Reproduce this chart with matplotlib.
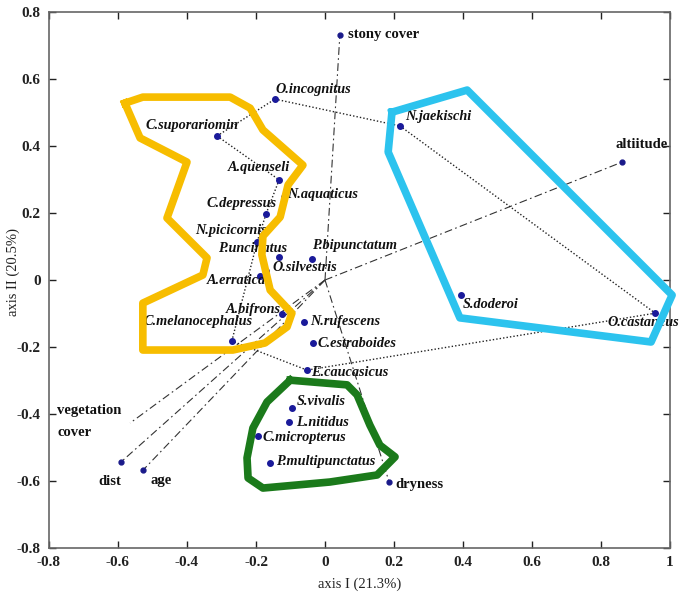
import matplotlib
matplotlib.use("Agg")
import matplotlib.pyplot as plt
from matplotlib.ticker import FuncFormatter

# ---------------- data ----------------
species = ["O.incognitus", "C.suporariomin", "A.quenseli", "N.aquaticus", "C.depressus",
           "N.picicornis", "P.uncinatus", "P.bipunctatum", "O.silvestris", "A.erratica",
           "A.bifrons", "C.melanocephalus", "N.rufescens", "C.estraboides", "E.caucasicus",
           "S.vivalis", "L.nitidus", "C.micropterus", "P.multipunctatus", "N.jaekischi",
           "S.doderoi", "O.castaneus"]
sp_x = [-0.145, -0.313, -0.133, -0.119, -0.171, -0.197, -0.133, -0.038, -0.171, -0.188,
        -0.125, -0.270, -0.061, -0.035, -0.052, -0.096, -0.105, -0.194, -0.159, 0.217,
        0.394, 0.957]
sp_y = [0.540, 0.430, 0.299, 0.248, 0.197, 0.113, 0.069, 0.063, 0.027, 0.012,
        -0.101, -0.182, -0.125, -0.188, -0.269, -0.382, -0.424, -0.466, -0.546, 0.460,
        -0.045, -0.099]

env_vars = ["stony cover", "altiitude", "dryness", "dist", "age", "vegetation\ncover"]
env_x = [0.043, 0.861, 0.186, -0.591, -0.527, -0.565]
env_y = [0.731, 0.352, -0.603, -0.543, -0.567, -0.427]
env_marker = [True, True, True, True, True, False]

links = [("C.suporariomin", "O.incognitus"), ("O.incognitus", "N.jaekischi"),
         ("N.jaekischi", "O.castaneus"), ("O.castaneus", "E.caucasicus"),
         ("E.caucasicus", "C.melanocephalus"), ("C.suporariomin", "A.quenseli"),
         ("A.quenseli", "C.depressus"), ("C.depressus", "N.picicornis"),
         ("N.picicornis", "C.melanocephalus")]

yellow_x = [-0.580, -0.528, -0.275, -0.217, -0.180, -0.064, -0.107, -0.130, -0.180, -0.183,
            -0.159, -0.096, -0.110, -0.174, -0.267, -0.528, -0.528, -0.354, -0.342, -0.458,
            -0.400, -0.536]
yellow_y = [0.528, 0.546, 0.546, 0.513, 0.448, 0.343, 0.284, 0.188, 0.131, 0.075,
            -0.030, -0.099, -0.140, -0.188, -0.209, -0.209, -0.069, 0.015, 0.066, 0.185,
            0.352, 0.424]
cyan_x = [0.194, 0.412, 1.006, 0.945, 0.391, 0.183]
cyan_y = [0.501, 0.567, -0.045, -0.185, -0.113, 0.382]
green_x = [-0.101, 0.064, 0.093, 0.130, 0.159, 0.203, 0.151, 0.014, -0.180, -0.223,
           -0.226, -0.209, -0.168]
green_y = [-0.299, -0.313, -0.343, -0.433, -0.493, -0.528, -0.582, -0.603, -0.621, -0.591,
           -0.531, -0.442, -0.364]

xticks = [-0.8, -0.6, -0.4, -0.2, 0, 0.2, 0.4, 0.6, 0.8, 1.0]
yticks = [-0.8, -0.6, -0.4, -0.2, 0, 0.2, 0.4, 0.6, 0.8]

# ---------------- label placement (pixel offsets, ha) ----------------
sp_off = {
    "O.incognitus": (1, 10, "left"), "C.suporariomin": (-25, 10, "center"),
    "A.quenseli": (-20, 12, "center"), "N.aquaticus": (3, 2, "left"),
    "C.depressus": (-24, 11, "center"), "N.picicornis": (-26, 12, "center"),
    "P.uncinatus": (-27, 8, "center"), "P.bipunctatum": (0, 13, "left"),
    "O.silvestris": (6, 3, "left"), "A.erratica": (-24, -5, "center"),
    "A.bifrons": (-1, 4, "right"), "C.melanocephalus": (-34, 19, "center"),
    "N.rufescens": (6, 0, "left"), "C.estraboides": (5, -1, "left"),
    "E.caucasicus": (4, -2, "left"), "S.vivalis": (5, 6, "left"),
    "L.nitidus": (7, 0, "left"), "C.micropterus": (4, -1, "left"),
    "P.multipunctatus": (6, 1, "left"), "N.jaekischi": (5, 9, "left"),
    "S.doderoi": (2, -9, "left"), "O.castaneus": (-12, -9, "center"),
}
env_off = [(8, 1, "left"), (20, 18, "center"), (6, -2, "left"),
           (-11, -20, "center"), (18, -11, "center"), (-73, 2, "left")]

serif = ["Liberation Serif", "DejaVu Serif"]
plt.rcParams["font.family"] = serif

fig = plt.figure(figsize=(6.88, 5.92), dpi=100)
ax = fig.add_axes([0.0712, 0.0743, 0.9027, 0.9054])
ax.set_xlim(-0.8, 1.0)
ax.set_ylim(-0.8, 0.8)

# environmental vectors
for name, x, y, mk in zip(env_vars, env_x, env_y, env_marker):
    ax.plot([0, x], [0, y], color="#333333", lw=0.8, ls=(0, (7, 3, 1.5, 3)), zorder=2)
    if mk:
        ax.plot([x], [y], "o", color="#1a1a8a", ms=3.5, zorder=4)

# species links
idx = {n: i for i, n in enumerate(species)}
for a, b in links:
    ia, ib = idx[a], idx[b]
    ax.plot([sp_x[ia], sp_x[ib]], [sp_y[ia], sp_y[ib]], color="#222222", lw=1.0,
            ls=(0, (1, 1.5)), zorder=2)

ax.plot(sp_x, sp_y, "o", color="#1a1a9a", ms=4, ls="none", zorder=4)

for n, x, y in zip(species, sp_x, sp_y):
    dx, dy, ha = sp_off[n]
    ax.annotate(n, (x, y), xytext=(dx, dy), textcoords="offset pixels", ha=ha, va="center",
                fontsize=10.3, fontstyle="italic", fontweight="bold", color="#111111",
                family=serif, zorder=5, annotation_clip=False)

for (n, x, y), (dx, dy, ha) in zip(zip(env_vars, env_x, env_y), env_off):
    ax.annotate(n, (x, y), xytext=(dx, dy), textcoords="offset pixels", ha=ha, va="center",
                fontsize=10.5, fontweight="bold", color="#111111", family=serif,
                linespacing=1.9, zorder=5, annotation_clip=False)

# hull outlines
for hx, hy, col in [(yellow_x, yellow_y, "#F7BD00"), (cyan_x, cyan_y, "#2CC3EE"),
                    (green_x, green_y, "#1B7A1B")]:
    ax.plot(hx + hx[:1], hy + hy[:1], color=col, lw=5.5, solid_joinstyle="round",
            zorder=6, clip_on=False)

# axes styling
ax.set_xticks(xticks)
ax.set_yticks(yticks)
fmt = FuncFormatter(lambda v, p: "0" if abs(v) < 1e-9 else ("%g" % v))
ax.xaxis.set_major_formatter(fmt)
ax.yaxis.set_major_formatter(fmt)
ax.tick_params(direction="in", length=5, width=1, top=True, right=True,
               labelsize=11, colors="#222222", pad=6)
for sp in ax.spines.values():
    sp.set_color("#666666")
    sp.set_linewidth(1.2)
for lab in ax.get_xticklabels() + ax.get_yticklabels():
    lab.set_fontweight("bold")

ax.set_xlabel("axis I (21.3%)", fontsize=10.5, labelpad=6, color="#222222")
fig.text(13 / 688, 1 - 272 / 592, "axis II (20.5%)", rotation=90, ha="center", va="center",
         fontsize=10.5, color="#222222")

fig.savefig("out.png", dpi=100)
